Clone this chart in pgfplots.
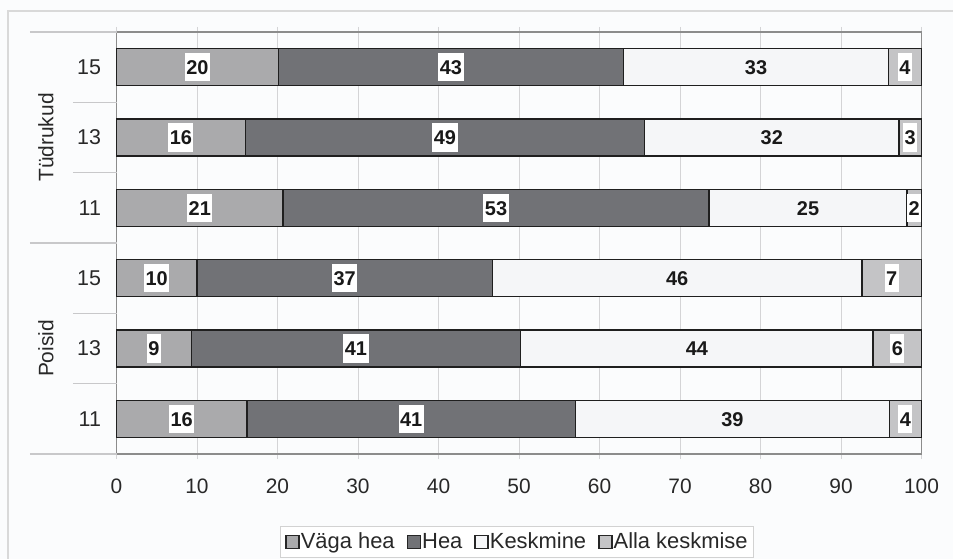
\documentclass[border=0pt]{standalone}
\usepackage{pgfplots}
\pgfplotsset{compat=1.18}
\usepackage{fontspec}
\setmainfont{Liberation Sans}
\definecolor{vh}{RGB}{170,170,172}
\definecolor{hea}{RGB}{113,114,118}
\definecolor{kesk}{RGB}{245,246,248}
\definecolor{alla}{RGB}{196,196,198}
\definecolor{bg}{RGB}{251,252,253}
\definecolor{frame}{RGB}{140,140,140}
\definecolor{gridc}{RGB}{212,212,214}
\definecolor{sepc}{RGB}{200,200,202}
\definecolor{txt}{RGB}{40,40,40}
\begin{document}
\begin{tikzpicture}
\path[use as bounding box, fill=bg] (0bp,0bp) rectangle (953bp,559bp);
\draw[color=gray!30, line width=1.2bp] (8bp,-5bp) -- (8bp,548bp) -- (960bp,548bp);
\begin{axis}[
  at={(116.5bp,105bp)}, anchor=south west,
  scale only axis, width=805bp, height=422bp,
  xbar stacked, bar width=37bp,
  xmin=0, xmax=100, ymin=-0.5, ymax=5.5,
  xtick={0,10,...,100},
  ytick={0,...,5},
  yticklabels={11,13,15,11,13,15},
  clip=false,
  axis line style={draw=frame, line width=1.5bp},
  xmajorgrids, grid style={draw=gridc, line width=1bp},
  tick align=outside, major tick length=5bp,
  xtick style={draw=gridc, line width=1bp},
  ytick style={draw=none},
  /pgf/number format/assume math mode=true,
  tick label style={font=\fontsize{21}{25}\selectfont, text=txt},
  xticklabel style={yshift=-16bp},
  yticklabel style={xshift=-7bp, font=\fontsize{21.5}{25}\selectfont},
  every axis plot/.append style={draw=black!88, line width=1.5bp},
  nodes near coords,
  point meta=explicit symbolic,
  every node near coord/.append style={anchor=center,
     font=\fontsize{20}{22}\selectfont\bfseries, text=black!90,
     fill=white, inner xsep=1.5bp, inner ysep=7bp, text height=14.5bp, text depth=0bp},
  legend image code/.code={\draw[#1, line width=1.5bp, draw=black!85] (0bp,-6.5bp) rectangle (13bp,6.5bp);},
  legend style={at={(0.4975,-0.208)}, anchor=center, legend columns=4,
     draw=gray!35, line width=1bp, fill=white,
     font=\fontsize{22}{26}\selectfont, text=txt,
     inner xsep=5bp, inner ysep=3bp,
     nodes={inner xsep=1bp, inner ysep=4bp},
     /tikz/every odd column/.append style={column sep=0bp},
     /tikz/every even column/.append style={column sep=11bp}},
]
\addplot[fill=vh] coordinates {(16.2,0)[16] (9.3,1)[9] (10.0,2)[10] (20.7,3)[21] (16.0,4)[16] (20.1,5)[20]};
\addplot[fill=hea] coordinates {(40.8,0)[41] (40.9,1)[41] (36.7,2)[37] (52.9,3)[53] (49.6,4)[49] (42.9,5)[43]};
\addplot[fill=kesk, every node near coord/.append style={fill=none}] coordinates {(39.0,0)[39] (43.8,1)[44] (45.9,2)[46] (24.6,3)[25] (31.6,4)[32] (32.9,5)[33]};
\addplot[fill=alla] coordinates {(4.0,0)[4] (6.0,1)[6] (7.4,2)[7] (1.8,3)[2] (2.8,4)[3] (4.1,5)[4]};
\legend{Väga hea, Hea, Keskmine, Alla keskmise}
\draw[sepc, line width=1.2bp] ([xshift=-86.5bp]axis cs:0,-0.5) -- (axis cs:0,-0.5);
\draw[sepc, line width=1.2bp] ([xshift=-86.5bp]axis cs:0,2.5) -- (axis cs:0,2.5);
\draw[sepc, line width=1.2bp] ([xshift=-86.5bp]axis cs:0,5.5) -- (axis cs:0,5.5);
\draw[sepc, line width=1.2bp] ([xshift=-43.5bp]axis cs:0,0.5) -- (axis cs:0,0.5);
\draw[sepc, line width=1.2bp] ([xshift=-43.5bp]axis cs:0,1.5) -- (axis cs:0,1.5);
\draw[sepc, line width=1.2bp] ([xshift=-43.5bp]axis cs:0,3.5) -- (axis cs:0,3.5);
\draw[sepc, line width=1.2bp] ([xshift=-43.5bp]axis cs:0,4.5) -- (axis cs:0,4.5);
\node[rotate=90, font=\fontsize{21}{25}\selectfont, text=txt] at ([xshift=-70.5bp]axis cs:0,4) {Tüdrukud};
\node[rotate=90, font=\fontsize{21}{25}\selectfont, text=txt] at ([xshift=-70.5bp]axis cs:0,1) {Poisid};
\end{axis}
\end{tikzpicture}
\end{document}
